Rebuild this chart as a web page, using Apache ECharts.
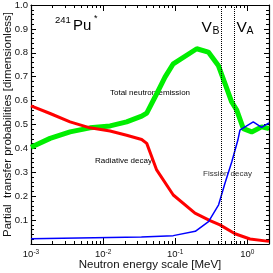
<!DOCTYPE html>
<html><head><meta charset="utf-8">
<script src="https://cdn.jsdelivr.net/npm/echarts@6/dist/echarts.min.js"></script>
<style>html,body{margin:0;padding:0;background:#fff}#c{width:273px;height:273px}</style>
</head><body><div id="c"></div>
<script>
// ---- data ----
const totalE = [0.001, 0.00184, 0.00348, 0.00658, 0.0125, 0.0212, 0.0343, 0.0403, 0.0525, 0.0722, 0.094, 0.199, 0.288, 0.396, 0.491, 0.608, 0.714, 0.881, 1.15, 1.58, 2.0];
const totalV = [0.405, 0.442, 0.469, 0.486, 0.494, 0.511, 0.535, 0.548, 0.615, 0.698, 0.754, 0.817, 0.803, 0.747, 0.671, 0.594, 0.56, 0.483, 0.469, 0.49, 0.483];
const radE = [0.001, 0.00184, 0.00348, 0.00658, 0.0125, 0.0212, 0.0343, 0.0403, 0.0553, 0.094, 0.188, 0.304, 0.418, 0.675, 1.09, 2.0];
const radV = [0.578, 0.546, 0.511, 0.486, 0.473, 0.455, 0.437, 0.421, 0.31, 0.205, 0.129, 0.098, 0.08, 0.043, 0.021, 0.011];
const fisE = [0.001, 0.034, 0.094, 0.19, 0.29, 0.40, 0.49, 0.61, 0.74, 0.79, 0.93, 1.21, 1.58, 2.0];
const fisV = [0.022, 0.029, 0.035, 0.053, 0.094, 0.164, 0.254, 0.344, 0.435, 0.476, 0.49, 0.511, 0.488, 0.507];
const barrierE = [0.43, 0.66];           // V_B, V_A
const xMajor = [0.001, 0.01, 0.1, 1];
const yTicks = [0.1, 0.2, 0.3, 0.4, 0.5, 0.6, 0.7, 0.8, 0.9, 1.0];

const xMinor = [];
[0.001, 0.01, 0.1, 1].forEach(d => { for (let k = 2; k <= 9; k++) { const v = +(k * d).toPrecision(3); if (v < 2) xMinor.push(v); } });

const FONT = 'Liberation Sans';
const pair = (xs, ys) => xs.map((x, i) => [x, ys[i]]);

const chart = echarts.init(document.getElementById('c'), null, {renderer: 'canvas'});
const baseX = {
  type: 'log', logBase: 10, min: 0.001, max: 2, gridIndex: 0,
  splitLine: {show: false}, minorTick: {show: false}
};
function xAx(pos, major, showLabel, showName) {
  return Object.assign({}, baseX, {
    position: pos,
    axisLine: {show: major, onZero: false, lineStyle: {color: '#000', width: 1.2}},
    axisTick: {show: true, inside: true, length: major ? 6 : 3, customValues: major ? xMajor : xMinor, lineStyle: {color: '#000', width: 1}},
    axisLabel: showLabel ? {
      show: true, customValues: xMajor, margin: 5, color: '#111', fontFamily: FONT,
      formatter: v => { const e = Math.round(Math.log10(v)); return '{b|10}{s|' + e + '}'; },
      rich: {b: {fontSize: 9.5, fontFamily: FONT, color: '#111'}, s: {fontSize: 6.5, fontFamily: FONT, color: '#111', verticalAlign: 'top', padding: [0, 0, 0, 0]}}
    } : {show: false},
    name: showName ? 'Neutron energy scale [MeV]' : '',
    nameLocation: 'middle', nameGap: 15, nameMoveOverlap: false,
    nameTextStyle: {fontFamily: FONT, fontSize: 11.5, color: '#111'}
  });
}
function yAx(pos, showLabel) {
  return {
    type: 'value', min: 0, max: 1, interval: 0.1, position: pos, gridIndex: 0,
    splitLine: {show: false},
    axisLine: {show: true, onZero: false, lineStyle: {color: '#000', width: 1.2}},
    axisTick: {show: true, inside: true, length: 5, lineStyle: {color: '#000'}},
    minorTick: {show: true, splitNumber: 5, length: 3, lineStyle: {color: '#000'}},
    axisLabel: showLabel ? {show: true, showMinLabel: false, margin: 3, fontFamily: FONT, fontSize: 9.5, color: '#111',
      formatter: v => (yTicks.some(t => Math.abs(t - v) < 1e-9) ? v.toFixed(1) : '')} : {show: false},
    name: showLabel ? 'Partial  transfer probabilities [dimensionless]' : '',
    nameLocation: 'middle', nameGap: 17.5, nameMoveOverlap: false,
    nameTextStyle: {fontFamily: FONT, fontSize: 11.5, color: '#111'}
  };
}

const option = {
  backgroundColor: '#fff',
  animation: false,
  grid: {left: 31, right: 4, top: 5, bottom: 29, containLabel: false, outerBoundsMode: 'none'},
  xAxis: [xAx('bottom', true, true, true), xAx('bottom', false, false, false), xAx('top', true, false, false), xAx('top', false, false, false)],
  yAxis: [yAx('left', true), yAx('right', false)],
  series: [
    {type: 'line', name: 'Total neutron emission', data: pair(totalE, totalV), showSymbol: false, symbol: 'none',
      lineStyle: {color: '#00ee00', width: 5}, itemStyle: {color: '#00ee00'}, z: 2,
      markLine: {silent: true, symbol: 'none', label: {show: false},
        lineStyle: {type: 'dotted', color: '#000', width: 1},
        data: barrierE.map(e => ({xAxis: e}))}},
    {type: 'line', name: 'Radiative decay', data: pair(radE, radV), showSymbol: false, symbol: 'none',
      lineStyle: {color: '#ff0000', width: 3}, itemStyle: {color: '#ff0000'}, z: 3},
    {type: 'line', name: 'Fission decay', data: pair(fisE, fisV), showSymbol: false, symbol: 'none',
      lineStyle: {color: '#0000ff', width: 1.5}, itemStyle: {color: '#0000ff'}, z: 4}
  ],
  graphic: [
    {type: 'text', style: {x: 55, y: 20.5, text: '241', font: '9.5px "Liberation Sans"', fill: '#000', textVerticalAlign: 'middle'}},
    {type: 'text', style: {x: 73, y: 26, text: 'Pu', font: '15px "Liberation Sans"', fill: '#000', textVerticalAlign: 'middle'}},
    {type: 'text', style: {x: 94, y: 19, text: '*', font: '9px "Liberation Sans"', fill: '#000', textVerticalAlign: 'middle'}},
    {type: 'text', style: {x: 201.5, y: 27.5, text: 'V', font: '15.5px "Liberation Sans"', fill: '#000', textVerticalAlign: 'middle'}},
    {type: 'text', style: {x: 212.5, y: 31.5, text: 'B', font: '10.5px "Liberation Sans"', fill: '#000', textVerticalAlign: 'middle'}},
    {type: 'text', style: {x: 236.5, y: 27.5, text: 'V', font: '15.5px "Liberation Sans"', fill: '#000', textVerticalAlign: 'middle'}},
    {type: 'text', style: {x: 246.5, y: 31.5, text: 'A', font: '10.5px "Liberation Sans"', fill: '#000', textVerticalAlign: 'middle'}},
    {type: 'text', style: {x: 110, y: 93, text: 'Total neutron emission', font: '8px "Liberation Sans"', fill: '#000', textVerticalAlign: 'middle'}},
    {type: 'text', style: {x: 95, y: 161, text: 'Radiative decay', font: '8px "Liberation Sans"', fill: '#000', textVerticalAlign: 'middle'}},
    {type: 'text', style: {x: 203, y: 173.5, text: 'Fission decay', font: '8px "Liberation Sans"', fill: '#333', textVerticalAlign: 'middle'}}
  ]
};
chart.setOption(option);
</script>
</body></html>
